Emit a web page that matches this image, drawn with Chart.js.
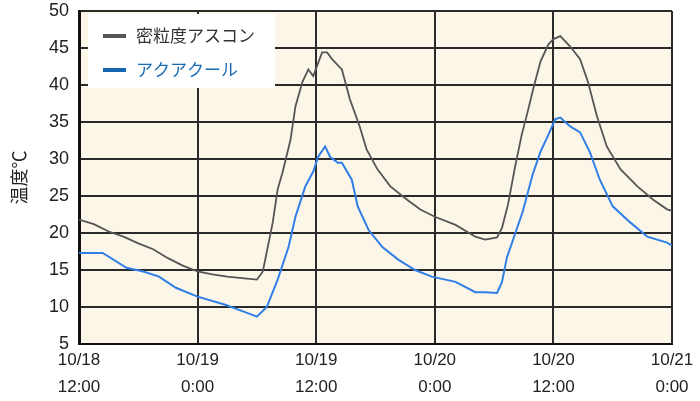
<!DOCTYPE html>
<html>
<head>
<meta charset="utf-8">
<script src="https://cdn.jsdelivr.net/npm/chart.js@4.4.0/dist/chart.umd.min.js"></script>
<style>
  html, body { margin: 0; padding: 0; background: #fff; }
  #wrap { width: 700px; height: 401px; }
</style>
</head>
<body>
<div id="wrap"><canvas id="tempChart" width="700" height="401"></canvas></div>
<script>
// hours from 10/18 12:00
const seriesNames = ['密粒度アスコン', 'アクアクール'];

const grayHours = [0, 1.5, 3, 4.5, 6, 7.5, 9, 10.5, 12, 13.5, 15, 16.5, 18, 18.6, 19.6, 20.1, 20.6, 21.4, 21.9, 22.6, 23.2, 23.7, 24.6, 25.1, 25.6, 26.6, 27.4, 28.4, 29.1, 30.2, 31.5, 33.2, 34.5, 36, 38.1, 40.1, 41.1, 42.3, 42.8, 43.4, 44.1, 44.8, 45.4, 46, 46.7, 47.5, 48, 48.7, 49.7, 50.7, 51.5, 52.4, 53.4, 54.8, 56.5, 58.1, 59.5, 60];
const grayTemps = [21.8, 21.2, 20.2, 19.5, 18.6, 17.8, 16.6, 15.6, 14.8, 14.4, 14.1, 13.9, 13.7, 14.8, 21.4, 25.9, 28.2, 32.6, 37.1, 40.4, 42.1, 41.2, 44.4, 44.4, 43.5, 42.1, 38.1, 34.4, 31.3, 28.6, 26.3, 24.5, 23.2, 22.2, 21.1, 19.5, 19.1, 19.4, 20.7, 23.8, 28.8, 33.3, 36.4, 39.7, 43.2, 45.5, 46.2, 46.6, 45.2, 43.5, 40.4, 35.8, 31.7, 28.6, 26.3, 24.5, 23.2, 23.0];

const blueHours = [0, 2.4, 4.8, 6.5, 8.1, 9.8, 12, 14.8, 16.8, 18, 19, 20.1, 21.2, 21.9, 22.9, 23.7, 24.2, 24.9, 25.4, 26.2, 26.6, 27.6, 28.2, 29.3, 30.7, 32.3, 34, 35.7, 38.1, 40.1, 41.1, 42.3, 42.8, 43.3, 44.1, 44.9, 45.9, 46.7, 47.5, 48.2, 48.7, 49.7, 50.7, 51.7, 52.7, 54, 55.8, 57.5, 59.5, 60];
const blueTemps = [17.3, 17.3, 15.3, 14.8, 14.1, 12.6, 11.4, 10.3, 9.3, 8.7, 10.0, 13.7, 18.1, 22.2, 26.3, 28.3, 30.3, 31.7, 30.3, 29.5, 29.5, 27.2, 23.6, 20.4, 18.1, 16.4, 15.0, 14.1, 13.4, 12.0, 12.0, 11.9, 13.4, 16.7, 19.8, 22.9, 27.9, 31.0, 33.3, 35.4, 35.6, 34.4, 33.6, 30.9, 27.2, 23.6, 21.4, 19.5, 18.7, 18.3];

const xTickDates = ['10/18', '10/19', '10/19', '10/20', '10/20', '10/21'];
const xTickTimes = ['12:00', '0:00', '12:00', '0:00', '12:00', '0:00'];

const toPoints = (xs, ys) => xs.map((h, i) => ({ x: h, y: ys[i] }));

const plotBg = {
  id: 'plotBg',
  beforeDraw(chart) {
    const { ctx, chartArea: a } = chart;
    ctx.save();
    ctx.fillStyle = '#fcf6e9';
    ctx.fillRect(a.left, a.top, a.right - a.left, a.bottom - a.top);
    ctx.restore();
  }
};

// white legend box sitting inside the plot
const boxLegend = {
  id: 'boxLegend',
  afterDraw(chart) {
    const { ctx } = chart;
    const x0 = 88, y0 = 14, w = 187, h = 74;
    ctx.save();
    ctx.fillStyle = '#fff';
    ctx.fillRect(x0, y0, w, h);
    const textCols = ['#333', '#1a6bb5'];
    const lineCols = ['#555', '#1565b0'];
    chart.data.datasets.forEach((ds, i) => {
      const y = y0 + 22 + i * 34;
      ctx.strokeStyle = lineCols[i];
      ctx.lineWidth = 4;
      ctx.beginPath();
      ctx.moveTo(103, y);
      ctx.lineTo(126, y);
      ctx.stroke();
      ctx.fillStyle = textCols[i];
      ctx.font = '17px "Noto Sans CJK JP"';
      ctx.textBaseline = 'middle';
      ctx.fillText(ds.label, 136, y);
    });
    ctx.restore();
  }
};

new Chart(document.getElementById('tempChart'), {
  type: 'line',
  data: {
    datasets: [
      {
        label: seriesNames[0],
        data: toPoints(grayHours, grayTemps),
        borderColor: '#555',
        borderWidth: 1.8,
        pointRadius: 0,
        tension: 0
      },
      {
        label: seriesNames[1],
        data: toPoints(blueHours, blueTemps),
        borderColor: '#2f7fe6',
        borderWidth: 2,
        pointRadius: 0,
        tension: 0
      }
    ]
  },
  options: {
    responsive: false,
    animation: false,
    layout: { padding: { top: 11, right: 28, left: 0, bottom: 0 } },
    plugins: {
      legend: { display: false },
      tooltip: { enabled: false }
    },
    scales: {
      x: {
        type: 'linear',
        min: 0,
        max: 60,
        afterFit: s => { s.height = 57; },
        afterBuildTicks: s => { s.ticks = [0, 12, 24, 36, 48, 60].map(v => ({ value: v })); },
        ticks: {
          color: '#222',
          padding: 3,
          maxRotation: 0,
          font: { family: '"Liberation Sans", Arial', size: 17, lineHeight: 1.6 },
          callback: (v, i) => [xTickDates[i], xTickTimes[i]]
        },
        grid: { color: '#2a2a2a', lineWidth: 2, drawTicks: false },
        border: { color: '#111', width: 2 }
      },
      y: {
        min: 5,
        max: 50,
        afterFit: s => { s.width = 79; s.paddingTop = 0; s.paddingBottom = 0; },
        ticks: {
          stepSize: 5,
          color: '#222',
          padding: 10,
          font: { family: '"Liberation Sans", Arial', size: 18 }
        },
        grid: { color: '#2a2a2a', lineWidth: 2, drawTicks: false },
        border: { color: '#111', width: 3 },
        title: {
          display: true,
          text: '温度℃',
          color: '#222',
          padding: { top: 8, bottom: 0 },
          font: { family: '"Noto Sans CJK JP"', size: 18 }
        }
      }
    }
  },
  plugins: [plotBg, boxLegend]
});
</script>
</body>
</html>
